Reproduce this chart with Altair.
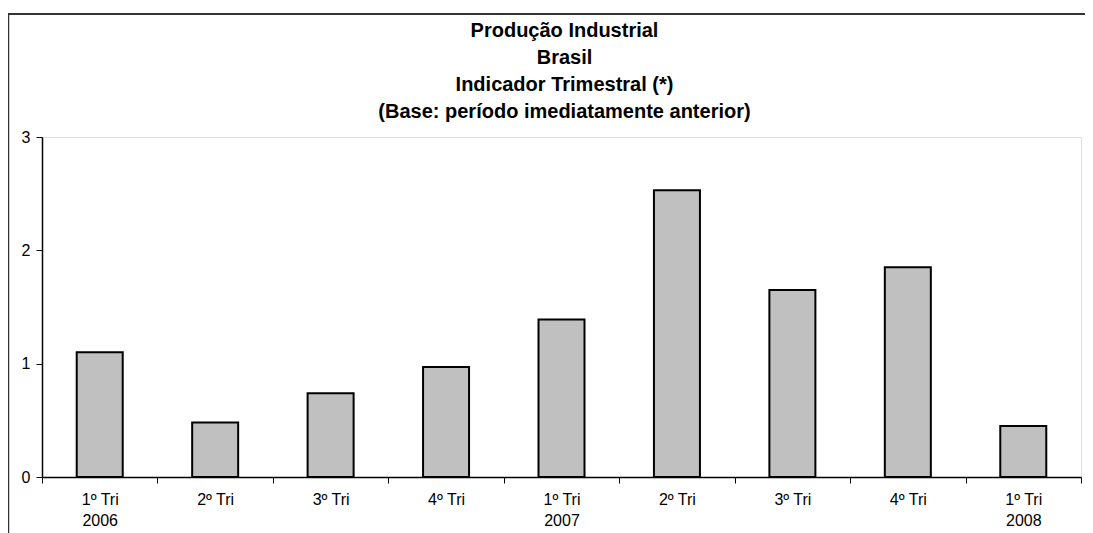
import json
import altair as alt
import pandas as pd

quarters = ["1º Tri", "2º Tri", "3º Tri", "4º Tri", "1º Tri", "2º Tri", "3º Tri", "4º Tri", "1º Tri"]
years = ["2006", "2006", "2006", "2006", "2007", "2007", "2007", "2007", "2008"]
values = [1.10, 0.48, 0.74, 0.97, 1.39, 2.53, 1.65, 1.85, 0.45]
y_ticks = [0, 1, 2, 3]
title_lines = [
    "Produção Industrial",
    "Brasil",
    "Indicador Trimestral (*)",
    "(Base: período imediatamente anterior)",
]

keys = [f"{q} {y}" for q, y in zip(quarters, years)]
tick_labels = [[q, y] if q == "1º Tri" else [q] for q, y in zip(quarters, years)]
df = pd.DataFrame({"periodo": keys, "valor": values})
one = pd.DataFrame({"a": [0]})

label_expr = f"{json.dumps(tick_labels, ensure_ascii=False)}[indexof({json.dumps(keys, ensure_ascii=False)}, datum.value)]"

FONT = "Liberation Sans"
W, H = 1039, 340

bars = alt.Chart(df).mark_bar(
    color="#c0c0c0", stroke="#000000", strokeWidth=2, size=46
).encode(
    x=alt.X(
        "periodo:N",
        sort=keys,
        scale=alt.Scale(paddingInner=0, paddingOuter=0),
        axis=alt.Axis(
            title=None,
            labelAngle=0,
            labelExpr=label_expr,
            labelFont=FONT,
            labelFontSize=16,
            labelColor="#000000",
            labelLineHeight=21,
            labelPadding=8,
            labelBaseline="top",
            tickBand="extent",
            tickSize=6,
            tickColor="#000000",
            domainColor="#000000",
            domainWidth=1.5,
        ),
    ),
    y=alt.Y(
        "valor:Q",
        scale=alt.Scale(domain=[0, 3], nice=False, zero=True),
        axis=alt.Axis(
            title=None,
            values=y_ticks,
            grid=False,
            labelFont=FONT,
            labelFontSize=16,
            labelColor="#000000",
            labelPadding=6,
            tickSize=6,
            tickColor="#000000",
            domainColor="#000000",
            domainWidth=1.5,
        ),
    ),
)

title = alt.Chart(one).mark_text(
    font=FONT, fontSize=20, fontWeight="bold", color="#000000",
    align="center", baseline="alphabetic", lineBreak="\n", lineHeight=27,
).encode(
    x=alt.value(W / 2 + 3),
    y=alt.value(-100),
    text=alt.value("\n".join(title_lines)),
)

frame_top = alt.Chart(one).mark_rule(color="#333333", strokeWidth=2).encode(
    x=alt.value(-34), x2=alt.value(1050), y=alt.value(-123)
)
frame_left = alt.Chart(one).mark_rule(color="#333333", strokeWidth=1.5).encode(
    x=alt.value(-33.5), y=alt.value(-123), y2=alt.value(400)
)

chart = alt.layer(bars, title, frame_top, frame_left).properties(
    width=W,
    height=H,
    autosize=alt.AutoSizeParams(type="none"),
    padding={"left": 34, "top": 129, "right": 4, "bottom": 56},
).configure_view(
    stroke="#808080", strokeWidth=2
).configure(background="#ffffff")

chart.save("out.html", embed_options={"renderer": "svg", "actions": False})
